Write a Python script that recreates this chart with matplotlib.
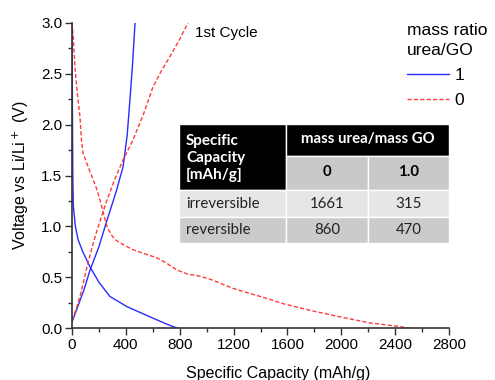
import matplotlib
matplotlib.use("Agg")
import matplotlib.pyplot as plt
from matplotlib.patches import Rectangle
from matplotlib.ticker import MultipleLocator

# 1st cycle charge/discharge curves
# mass ratio urea/GO = 1
blue_dis_cap = [0, 3, 6, 10, 25, 45, 80, 134, 200, 282, 408, 579, 700, 779]
blue_dis_v = [3.0, 2.2, 1.5, 1.2, 1.0, 0.87, 0.75, 0.60, 0.45, 0.31, 0.21, 0.11, 0.04, 0.0]
blue_chg_cap = [0, 40, 90, 134, 200, 260, 330, 380, 410, 430, 450, 468]
blue_chg_v = [0.06, 0.2, 0.38, 0.57, 0.8, 1.06, 1.35, 1.59, 1.9, 2.24, 2.6, 3.0]

# mass ratio urea/GO = 0
red_dis_cap = [0, 10, 22, 40, 59, 70, 82, 110, 148, 180, 208, 235, 260, 290, 319, 380, 453,
               540, 631, 700, 779, 860, 950, 1047, 1120, 1195, 1321, 1450, 1566, 1780,
               1989, 2212, 2400, 2508]
red_dis_v = [3.0, 2.85, 2.57, 2.3, 2.08, 1.85, 1.72, 1.62, 1.49, 1.38, 1.26, 1.12, 1.0, 0.92,
             0.87, 0.82, 0.77, 0.73, 0.69, 0.64, 0.57, 0.53, 0.51, 0.47, 0.43, 0.39, 0.34,
             0.29, 0.24, 0.17, 0.11, 0.05, 0.02, 0.0]
red_chg_cap = [0, 30, 59, 85, 111, 150, 186, 220, 260, 320, 378, 453, 530, 601, 660, 727, 800, 861]
red_chg_v = [0.08, 0.18, 0.31, 0.45, 0.6, 0.8, 0.96, 1.1, 1.26, 1.47, 1.65, 1.85, 2.1, 2.37,
             2.52, 2.67, 2.84, 3.0]

# inset table
table_cols = ["0", "1.0"]
table_rows = ["irreversible", "reversible"]
table_vals = [["1661", "315"], ["860", "470"]]

W, H = 495, 380
plt.rcParams['font.family'] = ['Liberation Sans', 'DejaVu Sans']

fig = plt.figure(figsize=(W / 100, H / 100), dpi=100)
ax = fig.add_axes([72 / W, 1 - 328 / H, (449 - 72) / W, (328 - 23) / H])

blue = '#2b2bff'
red = '#ff3b3b'
l1, = ax.plot(blue_dis_cap, blue_dis_v, color=blue, lw=1.0, label='1')
ax.plot(blue_chg_cap, blue_chg_v, color=blue, lw=1.0)
l0, = ax.plot(red_dis_cap, red_dis_v, color=red, lw=1.0, ls=(0, (3, 1.6)), label='0')
ax.plot(red_chg_cap, red_chg_v, color=red, lw=1.0, ls=(0, (3, 1.6)))

ax.set_xlim(0, 2800)
ax.set_ylim(0, 3.0)
ax.xaxis.set_major_locator(MultipleLocator(400))
ax.xaxis.set_minor_locator(MultipleLocator(200))
ax.yaxis.set_major_locator(MultipleLocator(0.5))
ax.yaxis.set_minor_locator(MultipleLocator(0.25))
ax.yaxis.set_major_formatter(lambda v, p: f"{v:.1f}")
for s in ['top', 'right']:
    ax.spines[s].set_visible(False)
for s in ['left', 'bottom']:
    ax.spines[s].set_color('#333333')
    ax.spines[s].set_linewidth(1.2)
ax.tick_params(which='major', direction='out', length=5, width=1.0, color='#333333',
               labelsize=11, pad=2)
ax.tick_params(which='minor', direction='out', length=3, width=1.0, color='#333333')

ax.set_xlabel('Specific Capacity (mAh/g)', fontsize=11.5)
ax.xaxis.set_label_coords(0.547, -0.125)
ax.set_ylabel('Voltage vs Li/Li$^+$ (V)', fontsize=11.5)
ax.yaxis.set_label_coords(-0.108, 0.5)

ax.text(913, 2.9, '1st Cycle', fontsize=11, va='center', ha='left')

leg = fig.legend(handles=[l1, l0], title='mass ratio\nurea/GO', loc='upper left',
                 bbox_to_anchor=(407 / W, 1 - 23 / H), frameon=False, fontsize=12.5,
                 title_fontsize=12.5, handlelength=2.4, handletextpad=0.35,
                 labelspacing=0.55, borderpad=0, borderaxespad=0, alignment='left')
leg.get_title().set_linespacing(1.45)

# table drawn in pixel layout
col_x = [179, 286, 368, 449]
row_y = [124, 156, 190, 217, 243]


def cell(x0, y0, x1, y1, color):
    fig.add_artist(Rectangle((x0 / W, 1 - y1 / H), (x1 - x0) / W, (y1 - y0) / H,
                             transform=fig.transFigure, facecolor=color,
                             edgecolor='white', lw=1.0))


def txt(x, y, s, size=10.8, **kw):
    fig.text(x / W, 1 - y / H, s, family=['Lato', 'DejaVu Sans'], fontsize=size,
             va='center', **kw)


cell(col_x[0], row_y[0], col_x[1], row_y[2], 'black')
cell(col_x[1], row_y[0], col_x[3], row_y[1], 'black')
for j in range(2):
    cell(col_x[j + 1], row_y[1], col_x[j + 2], row_y[2], '#c9c9c9')
row_colors = ['#e6e6e6', '#cbcbcb']
for i in range(2):
    for j in range(3):
        cell(col_x[j], row_y[i + 2], col_x[j + 1], row_y[i + 3], row_colors[i])

txt(186, 158, 'Specific\nCapacity\n[mAh/g]', size=11, color='white', weight='bold',
    ha='left', linespacing=1.3)
txt((col_x[1] + col_x[3]) / 2, 139, 'mass urea/mass GO', color='white', weight='bold',
    ha='center')
for j, c in enumerate(table_cols):
    txt((col_x[j + 1] + col_x[j + 2]) / 2, 172, c, weight='bold', ha='center')
for i, r in enumerate(table_rows):
    yc = (row_y[i + 2] + row_y[i + 3]) / 2
    txt(186, yc, r, ha='left', color='#222222')
    for j in range(2):
        txt((col_x[j + 1] + col_x[j + 2]) / 2, yc, table_vals[i][j], ha='center',
            color='#222222')

fig.savefig('out.png', dpi=100)
